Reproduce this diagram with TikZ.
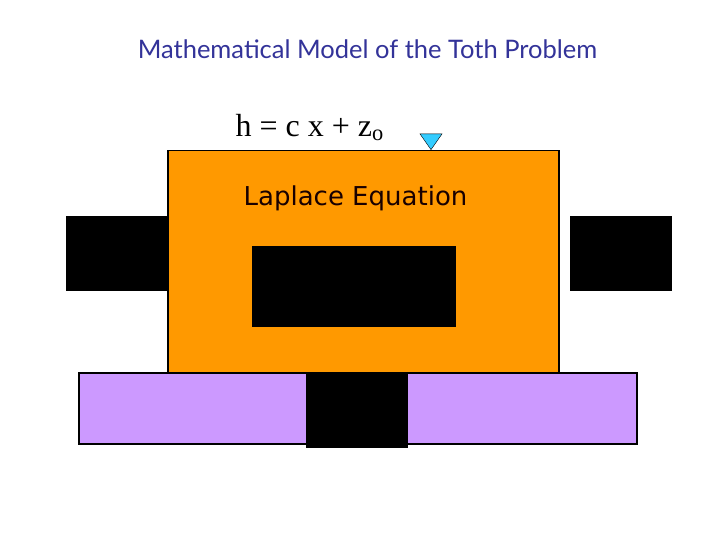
\documentclass[tikz,border=0pt]{standalone}
\usepackage{fontspec}
\setmainfont{Liberation Serif}
\newfontfamily\titlefont{Lato}
\newfontfamily\labelfont{DejaVu Sans}
\usetikzlibrary{positioning, shapes.geometric}
\definecolor{myorange}{RGB}{255, 153, 0}
\definecolor{mylilac}{RGB}{204, 153, 255}
\definecolor{mytitleblue}{RGB}{51, 51, 153}
\definecolor{mycyan}{RGB}{51, 204, 255}

\begin{document}
\begin{tikzpicture}[x = 1pt, y = -1pt, block/.style={draw, line width = 1.5pt, inner sep = 0pt, anchor = north west}, solid/.style={fill = black, inner sep = 0pt, anchor = north west}]
  \useasboundingbox [fill = white] (0, 0) rectangle (720, 540);

  % title
  \node (title) [text = mytitleblue, font = \titlefont\fontsize{25.5}{28}\selectfont] at (367.5, 49) {Mathematical Model of the Toth Problem};

  % aquifer
  \node (domain) [block, fill = myorange, minimum width = 391pt, minimum height = 222pt] at (167, 150) {};
  \node (left) [solid, minimum width = 102pt, minimum height = 75pt] at (66, 216) {};
  \node (right) [solid, minimum width = 102pt, minimum height = 75pt] at (570, 216) {};
  \node (centre) [solid, minimum width = 204pt, minimum height = 81pt] at (252, 246) {};
  \node (base) [block, fill = mylilac, minimum width = 558pt, minimum height = 71pt] at (78, 372) {};
  \node (bottom) [solid, minimum width = 102pt, minimum height = 76pt] at (306, 372) {};

  % labels
  \node (laplace) [font = \labelfont\fontsize{26}{30}\selectfont, text = black!90!red] at (355.5, 198) {Laplace Equation};
  \node (head) [font = \fontsize{32}{36}\selectfont, anchor = base west] at (232, 137) {h = c x + z\textsubscript{o}};
  \node (water) [isosceles triangle, shape border rotate = -90, isosceles triangle apex angle = 70, draw, thin, fill = mycyan, inner sep = 0pt, minimum width = 22pt, anchor = apex] at (431, 150) {};
\end{tikzpicture}
\end{document}
